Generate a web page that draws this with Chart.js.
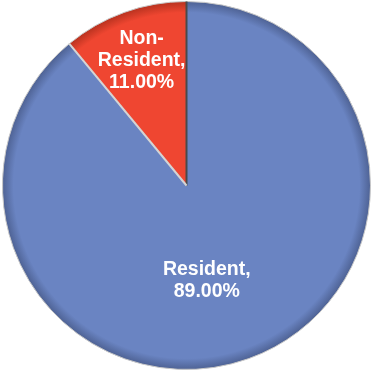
<!DOCTYPE html>
<html>
<head>
<meta charset="utf-8">
<script src="https://cdn.jsdelivr.net/npm/chart.js@4"></script>
<style>
  html, body { margin: 0; padding: 0; background: #fff; }
  #wrap { width: 373px; height: 371px; position: relative; }
</style>
</head>
<body>
<div id="wrap"><canvas id="pieChart"></canvas></div>
<script>
const labels = ['Resident', 'Non-Resident'];
const values = [89, 11];
const labelLines = [['Resident,', '89.00%'], ['Non-', 'Resident,', '11.00%']];

const colors = ['#6a84c2', '#ef4631'];
const edgeColors = ['#4e6294', '#b8321f'];
const seamColors = ['#4a4a4a', '#d4d4d4'];

// fill with a darker rim, like the bevelled Excel pie
function sliceFill(context) {
  const chart = context.chart;
  const arc = chart.getDatasetMeta(0).data[context.dataIndex];
  if (!arc || !arc.outerRadius) return colors[context.dataIndex];
  const g = chart.ctx.createRadialGradient(arc.x, arc.y, 0, arc.x, arc.y, arc.outerRadius);
  g.addColorStop(0, colors[context.dataIndex]);
  g.addColorStop(0.94, colors[context.dataIndex]);
  g.addColorStop(1, edgeColors[context.dataIndex]);
  return g;
}

// seam line at the start of each slice + white data labels
const sliceLabels = {
  id: 'sliceLabels',
  afterDatasetsDraw(chart, args, opts) {
    const ctx = chart.ctx;
    const meta = chart.getDatasetMeta(0);
    ctx.save();
    meta.data.forEach((arc, i) => {
      ctx.strokeStyle = seamColors[i];
      ctx.lineWidth = 2;
      ctx.beginPath();
      ctx.moveTo(arc.x, arc.y);
      ctx.lineTo(arc.x + Math.cos(arc.startAngle) * arc.outerRadius,
                 arc.y + Math.sin(arc.startAngle) * arc.outerRadius);
      ctx.stroke();
    });
    ctx.fillStyle = '#fff';
    ctx.font = 'bold 19.5px "Liberation Sans", Arial, sans-serif';
    ctx.textAlign = 'center';
    ctx.textBaseline = 'middle';
    meta.data.forEach((arc, i) => {
      const mid = (arc.startAngle + arc.endAngle) / 2;
      const r = arc.outerRadius * opts.radius[i];
      const x = arc.x + Math.cos(mid) * r + opts.shiftX[i];
      const y = arc.y + Math.sin(mid) * r;
      const lines = labelLines[i];
      const lh = 22;
      lines.forEach((t, k) => {
        ctx.fillText(t, x, y + (k - (lines.length - 1) / 2) * lh);
      });
    });
    ctx.restore();
  }
};

const chart = new Chart(document.getElementById('pieChart'), {
  type: 'pie',
  data: {
    labels: labels,
    datasets: [{
      data: values,
      backgroundColor: sliceFill,
      borderColor: '#c8c8c8',
      borderWidth: 1
    }]
  },
  options: {
    responsive: true,
    maintainAspectRatio: false,
    animation: false,
    layout: { padding: 1 },
    plugins: {
      legend: { display: false },
      tooltip: { enabled: false },
      sliceLabels: { radius: [0.55, 0.72], shiftX: [-14, 0] }
    }
  },
  plugins: [sliceLabels]
});
// second pass so the gradient knows the arc radius
chart.update();
</script>
</body>
</html>
